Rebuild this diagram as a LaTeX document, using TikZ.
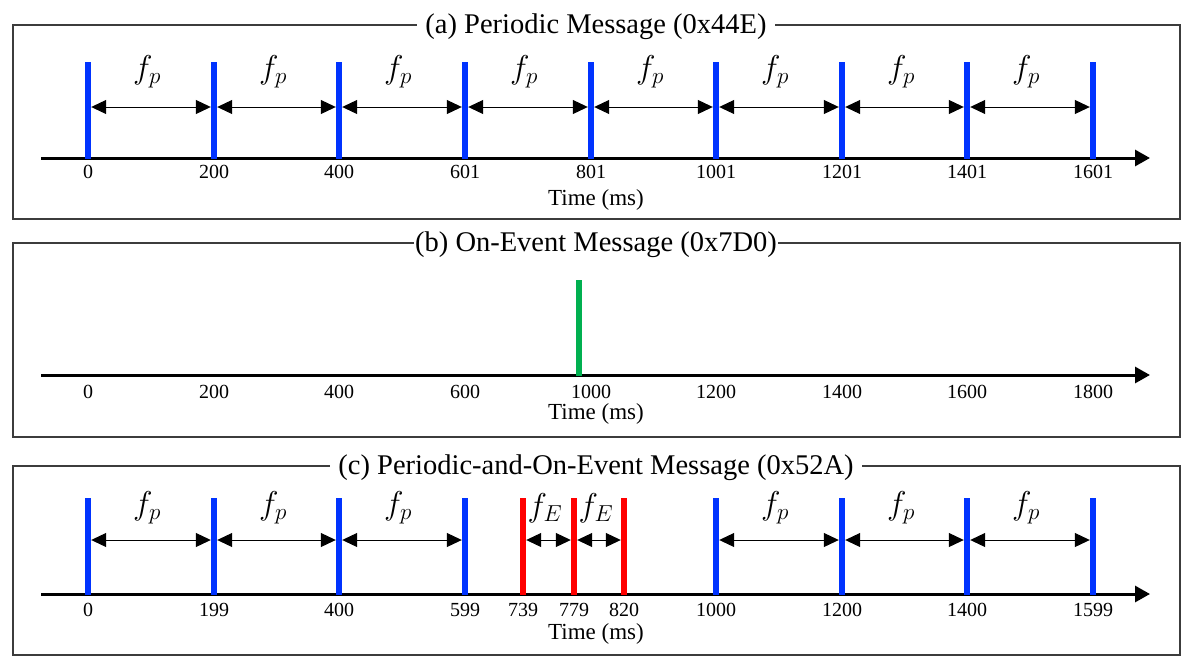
\RequirePackage{fix-cm}
\documentclass[tikz,border=0pt]{standalone}
\usepackage{fontspec}
\setmainfont{Liberation Serif}
\usetikzlibrary{arrows.meta}
\definecolor{barblue}{RGB}{0,51,255}
\definecolor{barred}{RGB}{255,0,0}
\definecolor{bargreen}{RGB}{0,176,80}
\definecolor{framegray}{RGB}{60,60,60}
\tikzset{
  frame/.style={draw=framegray, line width=1.6pt},
  title/.style={fill=white, inner xsep=8pt, inner ysep=4pt, font=\fontsize{28.5}{30}\selectfont},
  axis/.style={line width=3pt, -{Triangle[length=15pt,width=16pt]}},
  bar/.style={draw=none, minimum width=6pt, inner sep=0pt, anchor=south},
  dimarrow/.style={line width=1pt, {Triangle[length=15pt,width=14pt]}-{Triangle[length=15pt,width=14pt]}},
  tick/.style={font=\fontsize{20}{22}\selectfont, inner sep=0pt},
  timelbl/.style={font=\fontsize{23}{25}\selectfont, inner sep=0pt},
  flbl/.style={font=\fontsize{33}{33}\selectfont, inner sep=0pt}
}
\begin{document}
\begin{tikzpicture}[x=1pt,y=-1pt]
\useasboundingbox (0,0) rectangle (1194,667);
% ---------- panel (a)
\draw[frame] (13,25) rectangle (1180,219);
\node[title] (ta) at (596,27) {(a) Periodic Message (0x44E)};
\coordinate (axa0) at (41,158);
\coordinate (axa1) at (1150,158);
\draw[axis] (axa0) -- (axa1);
\coordinate (ya) at (0,107);
\foreach \x/\l [count=\i] in {88/0,214/200,339/400,465/601,591/801,716/1001,842/1201,967/1401,1093/1601}{
  \node[bar, fill=barblue, minimum height=97pt] (a\i) at (\x,159.5) {};
  \node[tick] (la\i) at (\x,172) {\l};
}
\foreach \i/\j in {1/2,2/3,3/4,4/5,5/6,6/7,7/8,8/9}{
  \draw[dimarrow] (a\i.east |- ya) -- (a\j.west |- ya);
}
\foreach \x [count=\i] in {147,273,398,524,650,775,901,1026}{
  \node[flbl] (fpa\i) at (\x,72) {$f_p$};
}
\node[timelbl] (tma) at (596,200) {Time (ms)};
% ---------- panel (b)
\draw[frame] (13,243) rectangle (1180,437);
\node[title, inner xsep=1pt] (tb) at (596,245) {(b) On-Event Message (0x7D0)};
\coordinate (axb0) at (41,375);
\coordinate (axb1) at (1150,375);
\draw[axis] (axb0) -- (axb1);
\foreach \x/\l [count=\i] in {88/0,214/200,339/400,465/600,591/1000,716/1200,842/1400,967/1600,1093/1800}{
  \node[tick] (lb\i) at (\x,392) {\l};
}
\node[bar, fill=bargreen, minimum height=96pt] (gb) at (579,376.5) {};
\node[timelbl] (tmb) at (596,414) {Time (ms)};
% ---------- panel (c)
\draw[frame] (13,466) rectangle (1180,655);
\node[title] (tc) at (596,468) {(c) Periodic-and-On-Event Message (0x52A)};
\coordinate (axc0) at (41,594);
\coordinate (axc1) at (1150,594);
\draw[axis] (axc0) -- (axc1);
\coordinate (yc) at (0,540);
\foreach \x/\l/\c [count=\i] in {88/0/barblue,214/199/barblue,339/400/barblue,465/599/barblue,523/739/barred,574/779/barred,624/820/barred,716/1000/barblue,842/1200/barblue,967/1400/barblue,1093/1599/barblue}{
  \node[bar, fill=\c, minimum height=97pt] (c\i) at (\x,595.5) {};
  \node[tick] (lc\i) at (\x,610) {\l};
}
\foreach \i/\j in {1/2,2/3,3/4,5/6,6/7,8/9,9/10,10/11}{
  \draw[dimarrow] (c\i.east |- yc) -- (c\j.west |- yc);
}
\foreach \x [count=\i] in {147,273,398,775,901,1026}{
  \node[flbl] (fpc\i) at (\x,508) {$f_p$};
}
\node[flbl] (fec1) at (545,508) {$f_E$};
\node[flbl] (fec2) at (596,508) {$f_E$};
\node[timelbl] (tmc) at (596,634) {Time (ms)};
\end{tikzpicture}
\end{document}
